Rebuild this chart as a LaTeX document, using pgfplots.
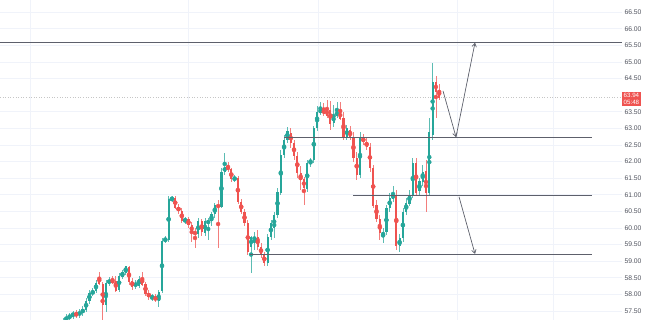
\documentclass[border=0pt]{standalone}
\usepackage{fontspec}
\setmainfont{Liberation Sans}
\usepackage{pgfplots}
\pgfplotsset{compat=1.18}
\usepackage{pgfplotstable}
\usetikzlibrary{arrows.meta}
\definecolor{tvgreen}{HTML}{26A69A}
\definecolor{tvred}{HTML}{EF5350}
\definecolor{gridc}{HTML}{F0F3FA}
\definecolor{linec}{HTML}{5D606B}
\definecolor{labc}{HTML}{50535E}

\pgfplotstableread{
x o h l c
63.0 57.17 57.29 57.05 57.23
66.3 57.23 57.41 57.11 57.32
69.6 57.29 57.44 57.20 57.38
72.9 57.35 57.50 57.26 57.44
76.2 57.41 57.53 57.29 57.38
79.5 57.38 57.56 57.29 57.47
82.8 57.44 57.65 57.35 57.56
86.1 57.53 57.89 57.47 57.80
89.4 57.80 58.13 57.71 58.04
92.7 58.01 58.19 57.95 58.10
96.0 58.10 58.43 58.04 58.34
99.3 58.52 58.67 58.28 58.34
102.6 58.31 58.37 57.23 57.68
105.9 57.68 58.43 57.47 58.34
109.2 58.34 58.52 58.25 58.43
112.5 58.43 58.55 58.31 58.37
115.8 58.40 58.55 58.07 58.13
119.1 58.16 58.64 58.07 58.55
122.4 58.55 58.73 58.46 58.67
125.7 58.67 58.86 58.58 58.83
129.0 58.80 58.86 58.28 58.40
132.3 58.40 58.49 58.13 58.25
135.6 58.25 58.43 58.16 58.34
138.9 58.28 58.55 58.19 58.46
142.2 58.49 58.67 58.25 58.31
145.5 58.31 58.37 57.95 58.04
148.8 58.04 58.13 57.83 57.92
152.1 57.89 58.01 57.80 57.95
155.4 57.92 58.01 57.77 57.83
158.7 57.80 58.13 57.62 58.07
162.0 58.10 59.70 58.04 59.61
165.3 59.61 59.76 59.55 59.67
168.6 59.64 60.96 59.58 60.87
171.9 60.87 60.96 60.78 60.90
175.2 60.90 60.96 60.57 60.63
178.5 60.63 60.72 60.42 60.51
181.8 60.51 60.60 60.15 60.21
185.1 60.21 60.33 60.12 60.27
188.4 60.27 60.33 60.00 60.09
191.7 60.09 60.18 59.58 59.88
195.0 59.88 60.00 59.40 59.82
198.3 59.82 60.30 59.70 60.21
201.6 60.21 60.27 59.76 59.88
204.9 59.85 60.30 59.76 60.21
208.2 60.12 60.30 59.64 60.24
211.5 60.21 60.48 60.06 60.42
214.8 60.42 60.75 60.30 60.69
218.1 60.69 60.84 59.40 60.63
221.4 60.66 61.81 60.60 61.69
224.7 61.69 62.26 61.60 61.84
228.0 61.87 61.99 61.69 61.75
231.3 61.75 61.81 61.39 61.48
234.6 61.45 61.60 61.39 61.51
237.9 61.48 61.57 60.72 60.78
241.2 60.78 60.87 60.42 60.48
244.5 60.48 60.57 60.06 60.15
247.8 60.15 60.24 59.19 59.28
251.1 59.43 59.76 58.64 59.73
254.4 59.64 59.88 59.34 59.73
257.7 59.73 59.94 59.34 59.43
261.0 59.43 59.55 59.10 59.19
264.3 59.19 59.28 58.86 58.95
267.6 58.95 59.82 58.86 59.73
270.9 59.73 60.24 59.64 60.15
274.2 60.00 60.48 59.70 60.39
277.5 60.39 61.20 60.30 61.08
280.8 61.08 62.35 60.99 62.20
284.1 62.20 62.80 62.11 62.65
287.4 62.65 63.04 62.56 62.92
290.7 62.86 63.01 62.41 62.56
294.0 62.56 62.65 62.05 62.17
297.3 62.17 62.29 61.51 61.66
300.6 61.66 61.87 61.14 61.45
303.9 61.45 61.54 60.69 61.23
307.2 61.20 62.05 61.08 61.96
310.5 61.96 62.11 61.84 62.05
313.8 62.05 63.07 61.96 63.01
317.1 63.01 63.67 62.92 63.49
320.4 63.49 63.80 63.40 63.55
323.7 63.55 63.77 63.37 63.46
327.0 63.55 63.86 63.31 63.40
330.3 63.55 63.83 62.95 63.16
333.6 63.16 63.70 63.04 63.40
336.9 63.40 63.80 63.31 63.49
340.2 63.49 63.80 63.25 63.31
343.5 63.31 63.49 62.65 62.74
346.8 62.74 63.10 62.65 63.01
350.1 62.95 63.07 62.65 62.71
353.4 62.71 62.89 61.99 62.11
356.7 62.11 62.29 61.45 61.60
360.0 61.60 62.89 61.51 62.71
363.3 62.71 62.83 62.50 62.59
366.6 62.59 62.71 62.35 62.44
369.9 62.44 62.56 61.69 61.81
373.2 61.81 61.90 60.60 60.69
376.5 60.69 60.84 60.18 60.27
379.8 60.27 60.39 59.64 59.85
383.1 59.76 60.00 59.55 59.88
386.4 59.88 60.69 59.79 60.60
389.7 60.60 61.05 60.48 60.90
393.0 60.90 61.27 60.78 60.99
396.3 60.96 61.14 59.34 59.46
399.6 59.46 59.82 59.28 59.70
402.9 59.70 60.60 59.58 60.48
406.2 60.48 60.90 60.39 60.75
409.5 60.75 61.14 60.66 60.99
412.8 60.99 62.11 60.90 61.96
416.1 61.96 62.11 60.99 61.08
419.4 61.14 61.51 60.96 61.39
422.7 61.39 61.90 61.27 61.69
426.0 61.69 62.05 60.48 61.08
429.3 61.08 63.31 60.96 62.89
432.6 62.80 64.97 62.65 64.40
435.9 64.40 64.58 63.31 64.10
439.2 64.16 64.34 63.86 63.94
}\candles

\begin{document}
\begin{tikzpicture}
\path[use as bounding box] (0,0) rectangle (648bp,320bp);
\begin{axis}[
  at={(0,0)}, anchor=south west,
  scale only axis, width=622bp, height=320bp,
  xmin=0, xmax=622, ymin=57.229, ymax=66.867,
  axis line style={draw=none},
  xtick={30,188,318,457,553}, xticklabels={},
  ytick={57.5,58,58.5,59,59.5,60,60.5,61,61.5,62,62.5,63,63.5,64.5,65,65.5,66,66.5},
  xmajorgrids, ymajorgrids,
  grid style={gridc, line width=0.6bp},
  major tick length=0pt,
  yticklabel pos=right,
  /pgf/number format/assume math mode=true,
  yticklabel style={font=\fontsize{6.8}{8}\selectfont, text=labc, anchor=west, xshift=-1bp,
    /pgf/number format/.cd, fixed, fixed zerofill, precision=2},
  clip mode=individual,
  unbounded coords=discard,
]
% current price line
\addplot[gray!45, dotted, line width=0.6bp] coordinates {(0,63.94) (622,63.94)};
% green wicks
\addplot[only marks, mark=none, tvgreen,
  x filter/.expression={(\thisrow{c}>=\thisrow{o}) ? x : nan},
  error bars/.cd, y dir=both, y explicit, error mark=none,
  error bar style={line width=0.7bp, tvgreen!75}]
  table[x=x, y expr={(\thisrow{h}+\thisrow{l})/2}, y error expr={(\thisrow{h}-\thisrow{l})/2}] {\candles};
% red wicks
\addplot[only marks, mark=none, tvred,
  x filter/.expression={(\thisrow{c}<\thisrow{o}) ? x : nan},
  error bars/.cd, y dir=both, y explicit, error mark=none,
  error bar style={line width=0.7bp, tvred!75}]
  table[x=x, y expr={(\thisrow{h}+\thisrow{l})/2}, y error expr={(\thisrow{h}-\thisrow{l})/2}] {\candles};
% green bodies
\addplot[only marks, mark=none, tvgreen,
  x filter/.expression={(\thisrow{c}>=\thisrow{o}) ? x : nan},
  error bars/.cd, y dir=both, y explicit, error mark=none,
  error bar style={line width=2.2bp, tvgreen}]
  table[x=x, y expr={(\thisrow{o}+\thisrow{c})/2}, y error expr={abs(\thisrow{c}-\thisrow{o})/2+0.012}] {\candles};
% red bodies
\addplot[only marks, mark=none, tvred,
  x filter/.expression={(\thisrow{c}<\thisrow{o}) ? x : nan},
  error bars/.cd, y dir=both, y explicit, error mark=none,
  error bar style={line width=2.2bp, tvred}]
  table[x=x, y expr={(\thisrow{o}+\thisrow{c})/2}, y error expr={abs(\thisrow{c}-\thisrow{o})/2+0.012}] {\candles};
% horizontal levels
\addplot[linec, line width=0.9bp] coordinates {(0,65.58) (622,65.58)};
\addplot[linec, line width=0.9bp] coordinates {(284,62.72) (592,62.72)};
\addplot[linec, line width=0.9bp] coordinates {(353,60.98) (592,60.98)};
\addplot[linec, line width=0.9bp] coordinates {(250,59.20) (592,59.20)};
% arrows
\addplot[linec, line width=0.7bp, -{Straight Barb[length=3.5bp,width=4.5bp]}] coordinates {(443,64.13) (456,62.74)};
\addplot[linec, line width=0.7bp, -{Straight Barb[length=3.5bp,width=4.5bp]}] coordinates {(456,62.74) (475,65.58)};
\addplot[linec, line width=0.7bp, -{Straight Barb[length=3.5bp,width=4.5bp]}] coordinates {(459,60.94) (475,59.22)};
% price label
\node[fill=tvred, text=white, font=\fontsize{6.2}{7}\selectfont, inner sep=1.5bp, align=center, anchor=west]
  at (axis cs:622,63.88) {63.94\\05:48};
\end{axis}
\end{tikzpicture}
\end{document}
